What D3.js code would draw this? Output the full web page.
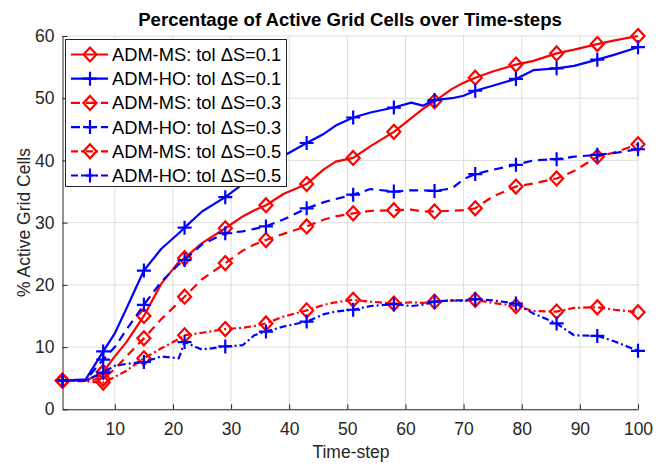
<!DOCTYPE html>
<html>
<head>
<meta charset="utf-8">
<script src="https://cdn.jsdelivr.net/npm/d3@7"></script>
<style>
  html, body { margin: 0; padding: 0; background: #fff; }
  svg { display: block; font-family: "Liberation Sans", Arial, Helvetica, sans-serif; }
</style>
</head>
<body>
<svg id="chart" width="668" height="465"></svg>
<script>
// Time-steps at which the curves are sampled
const steps = [1, 5, 8, 10, 12, 15, 18, 21, 22, 25, 29, 32, 34, 36, 39, 43, 46, 48, 51, 54,
               58, 61, 63, 65, 68, 70, 72, 75, 79, 82, 86, 89, 93, 96, 100];
// Time-steps that carry a marker
const markerSteps = [1, 8, 15, 22, 29, 36, 43, 51, 58, 65, 72, 79, 86, 93, 100];

// Percentage of active grid cells per run
const msTol01 = [4.6, 4.6, 6.0, 8.5, 10.8, 15.0, 20.2, 23.7, 24.3, 26.7, 29.1, 31.0, 32.0, 32.8, 34.6, 36.2, 38.6, 39.8, 40.4, 42.3,
                 44.6, 46.8, 48.3, 49.5, 51.5, 52.5, 53.3, 54.3, 55.4, 56.0, 57.2, 57.8, 58.7, 59.3, 60.0];
const hoTol01 = [4.6, 4.8, 9.3, 12.2, 16.2, 22.3, 25.8, 28.3, 29.2, 31.8, 34.1, 36.2, 37.5, 38.8, 40.7, 42.8, 44.3, 45.6, 46.9, 47.7,
                 48.5, 49.3, 48.8, 49.7, 50.0, 50.4, 51.2, 52.0, 53.1, 54.5, 54.8, 55.2, 56.2, 57.0, 58.2];
const msTol03 = [4.6, 4.6, 4.9, 6.5, 8.5, 11.4, 14.5, 17.2, 18.1, 20.9, 23.5, 25.5, 26.5, 27.2, 28.2, 29.4, 30.5, 31.0, 31.5, 31.9,
                 32.0, 32.1, 31.8, 31.8, 31.9, 32.0, 32.3, 34.2, 35.8, 36.3, 37.1, 38.3, 40.6, 41.3, 42.6];
const hoTol03 = [4.6, 4.7, 8.0, 10.0, 12.8, 16.8, 20.5, 23.3, 24.0, 26.5, 28.3, 28.6, 29.0, 29.4, 30.5, 32.3, 33.3, 33.8, 34.5, 35.4,
                 35.0, 35.2, 35.2, 35.1, 35.5, 37.0, 37.8, 38.5, 39.3, 40.0, 40.2, 40.6, 40.9, 41.2, 41.8];
const msTol05 = [4.6, 4.5, 4.3, 5.2, 6.2, 8.2, 9.8, 11.3, 11.9, 12.3, 12.9, 13.1, 13.4, 13.8, 14.9, 15.9, 16.8, 17.2, 17.6, 17.3,
                 17.0, 17.2, 17.1, 17.3, 17.5, 17.4, 17.6, 17.1, 16.6, 15.8, 15.7, 16.3, 16.4, 16.0, 15.6];
const hoTol05 = [4.6, 4.6, 5.9, 7.0, 7.3, 7.6, 8.5, 8.2, 10.8, 9.6, 10.1, 10.3, 11.9, 12.5, 13.3, 14.1, 15.3, 15.7, 16.0, 16.6,
                 16.9, 16.6, 16.8, 17.3, 17.5, 17.5, 17.7, 17.5, 17.0, 15.4, 13.8, 11.9, 11.8, 10.9, 9.4];

const xTicks = [10, 20, 30, 40, 50, 60, 70, 80, 90, 100];
const yTicks = [0, 10, 20, 30, 40, 50, 60];

const series = [
  { name: "ADM-MS: tol \u0394S=0.1", values: msTol01, color: "#ff0000", dash: null,        marker: "diamond" },
  { name: "ADM-HO: tol \u0394S=0.1", values: hoTol01, color: "#0000ff", dash: null,        marker: "plus" },
  { name: "ADM-MS: tol \u0394S=0.3", values: msTol03, color: "#ff0000", dash: "9,6",       marker: "diamond" },
  { name: "ADM-HO: tol \u0394S=0.3", values: hoTol03, color: "#0000ff", dash: "9,6",       marker: "plus" },
  { name: "ADM-MS: tol \u0394S=0.5", values: msTol05, color: "#ff0000", dash: "7,3,2,3",   marker: "diamond" },
  { name: "ADM-HO: tol \u0394S=0.5", values: hoTol05, color: "#0000ff", dash: "7,3,2,3",   marker: "plus" }
];

const svg = d3.select("#chart");
const x = d3.scaleLinear().domain([1, 100]).range([62.5, 638]);
const y = d3.scaleLinear().domain([0, 60]).range([409.3, 36]);

// Grid
const grid = svg.append("g").attr("stroke", "#dedede").attr("stroke-width", 1);
grid.selectAll("line.gx").data(xTicks).join("line")
  .attr("x1", d => x(d)).attr("x2", d => x(d))
  .attr("y1", y(0)).attr("y2", y(60));
grid.selectAll("line.gy").data(yTicks).join("line")
  .attr("x1", x(1)).attr("x2", x(100))
  .attr("y1", d => y(d)).attr("y2", d => y(d));

// Axes (ticks point inward)
const xAxis = svg.append("g").attr("transform", `translate(0,${y(0)})`)
  .call(d3.axisBottom(x).tickValues(xTicks).tickSizeInner(-5).tickSizeOuter(0).tickPadding(13));
const yAxis = svg.append("g").attr("transform", `translate(${x(1)},0)`)
  .call(d3.axisLeft(y).tickValues(yTicks).tickSizeInner(-5).tickSizeOuter(0).tickPadding(8));
[xAxis, yAxis].forEach(a => {
  a.select(".domain").attr("stroke", "#262626").attr("stroke-width", 1);
  a.selectAll(".tick line").attr("stroke", "#262626");
  a.selectAll(".tick text").attr("fill", "#262626").attr("font-size", 17.5)
    .attr("font-family", "Liberation Sans, Arial, sans-serif");
});

// Lines
const line = d3.line().x((d, i) => x(steps[i])).y(d => y(d));
const markerPath = {
  diamond: "M0,-7 L6.5,0 L0,7 L-6.5,0 Z",
  plus: "M-7,0 L7,0 M0,-7 L0,7"
};

series.forEach(s => {
  svg.append("path")
    .attr("d", line(s.values))
    .attr("fill", "none")
    .attr("stroke", s.color)
    .attr("stroke-width", 2.2)
    .attr("stroke-linejoin", "round")
    .attr("stroke-dasharray", s.dash);
  const pts = steps.map((t, i) => ({ t, v: s.values[i] })).filter(p => markerSteps.includes(p.t));
  svg.append("g").selectAll("path").data(pts).join("path")
    .attr("transform", p => `translate(${x(p.t)},${y(p.v)})`)
    .attr("d", markerPath[s.marker])
    .attr("fill", "none")
    .attr("stroke", s.color)
    .attr("stroke-width", 2.2);
});

// Title and axis labels
svg.append("text").attr("x", 350).attr("y", 26).attr("text-anchor", "middle")
  .attr("font-size", 18.6).attr("font-weight", "bold").attr("fill", "#000")
  .text("Percentage of Active Grid Cells over Time-steps");
svg.append("text").attr("x", 351).attr("y", 458).attr("text-anchor", "middle")
  .attr("font-size", 17.5).attr("fill", "#262626").text("Time-step");
svg.append("text").attr("transform", "translate(30,222.5) rotate(-90)").attr("text-anchor", "middle")
  .attr("font-size", 17.5).attr("fill", "#262626").text("% Active Grid Cells");

// Legend
const lg = svg.append("g");
lg.append("rect").attr("x", 65.5).attr("y", 39.5).attr("width", 221).attr("height", 147)
  .attr("fill", "#fff").attr("stroke", "#262626").attr("stroke-width", 1);
series.forEach((s, i) => {
  const cy = 54.5 + i * 24.2;
  lg.append("line").attr("x1", 71).attr("x2", 108).attr("y1", cy).attr("y2", cy)
    .attr("stroke", s.color).attr("stroke-width", 2.2).attr("stroke-dasharray", s.dash);
  lg.append("path").attr("transform", `translate(90,${cy})`).attr("d", markerPath[s.marker])
    .attr("fill", "none").attr("stroke", s.color).attr("stroke-width", 2.2);
  lg.append("text").attr("x", 112).attr("y", cy + 6.5).attr("font-size", 18.3).attr("fill", "#000")
    .text(s.name);
});
</script>
</body>
</html>
